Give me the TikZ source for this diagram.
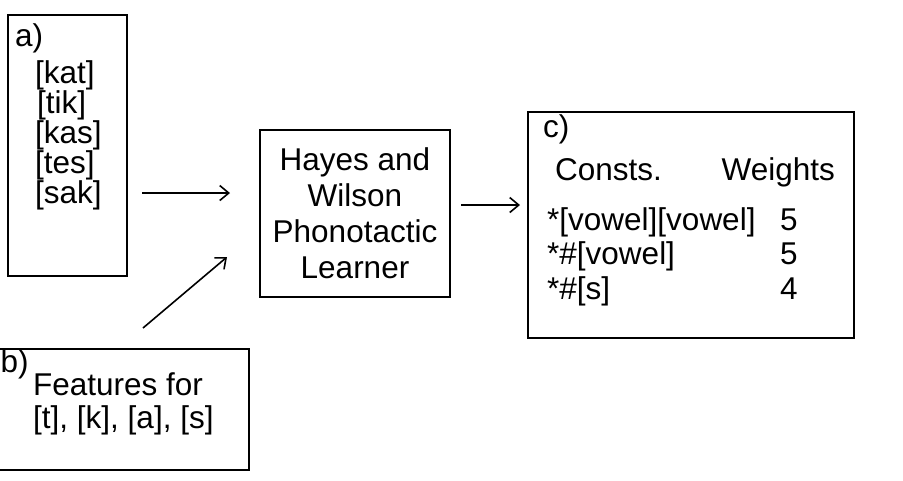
\documentclass[tikz,border=0pt]{standalone}
\usepackage{fontspec}
\setmainfont{Liberation Sans}
\usetikzlibrary{positioning, arrows.meta}

\tikzset{
  panel/.style={draw, line width=2pt, inner sep=0pt},
  entry/.style={anchor=base west, inner sep=0pt, font=\fontsize{31.5}{36}\selectfont},
  flow/.style={line width=1.6pt, -{Straight Barb[length=9pt, width=15pt]}}
}

\begin{document}
\begin{tikzpicture}[x=1pt, y=-1pt]
    \clip (0,0) rectangle (903,480);

    % Panel a: words
    \node[panel, minimum width=119pt, minimum height=261pt] (words) at (67.5,145.5) {};
    \node[entry] (alabel) at (15,46) {a)};
    \node[entry] (kat) at (35,83) {[kat]};
    \node[entry] (tik) at (37,113) {[tik]};
    \node[entry] (kas) at (35,143) {[kas]};
    \node[entry] (tes) at (35,173) {[tes]};
    \node[entry] (sak) at (35,203) {[sak]};

    % Panel b: features
    \node[panel, minimum width=257pt, minimum height=121pt] (features) at (120.5,409.5) {};
    \node[entry] (blabel) at (0.5,372) {b)};
    \node[entry] (feat1) at (33,395) {Features for};
    \node[entry] (feat2) at (33,428) {[t], [k], [a], [s]};

    % Learner
    \node[panel, minimum width=190pt, minimum height=167pt, align=center,
          font=\fontsize{31.5}{36}\selectfont] (learner) at (355,213.5)
          {Hayes and\\Wilson\\Phonotactic\\Learner};

    % Panel c: constraints
    \node[panel, minimum width=326pt, minimum height=226pt] (grammar) at (691,225) {};
    \node[entry] (clabel) at (543,137) {c)};
    \node[entry] (consts) at (555,180) {Consts.};
    \node[entry, anchor=base east] (weights) at (835,180) {Weights};
    \node[entry] (con1) at (547,230) {*[vowel][vowel]};
    \node[entry] (con2) at (547,264) {*\#[vowel]};
    \node[entry] (con3) at (547,299) {*\#[s]};
    \node[entry] (wt1) at (780,230) {5};
    \node[entry] (wt2) at (780,264) {5};
    \node[entry] (wt3) at (780,299) {4};

    % Arrows
    \coordinate (wordsout) at (142,193);
    \coordinate (wordsin) at (230,193);
    \coordinate (featout) at (143,328);
    \coordinate (featin) at (227,257);
    \coordinate (learnerout) at (461,205);
    \coordinate (grammarin) at (520,205);
    \draw[flow] (wordsout) -- (wordsin);
    \draw[flow] (featout) -- (featin);
    \draw[flow] (learnerout) -- (grammarin);
\end{tikzpicture}
\end{document}
